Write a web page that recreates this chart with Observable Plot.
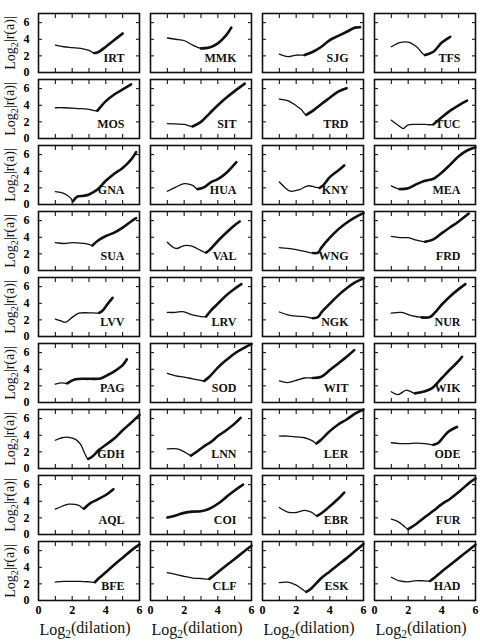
<!DOCTYPE html>
<html>
<head>
<meta charset="utf-8">
<script src="https://cdn.jsdelivr.net/npm/d3@7"></script>
<script src="https://cdn.jsdelivr.net/npm/@observablehq/plot@0.6"></script>
<style>
  html, body { margin: 0; padding: 0; background: #fff; }
  svg { display: block; }
</style>
</head>
<body>
<div id="chart"></div>
<script>
// ---- data: station names (row by row, 4 per row) ----
const stations = [
  "IRT","MMK","SJG","TFS",
  "MOS","SIT","TRD","TUC",
  "GNA","HUA","KNY","MEA",
  "SUA","VAL","WNG","FRD",
  "LVV","LRV","NGK","NUR",
  "PAG","SOD","WIT","WIK",
  "GDH","LNN","LER","ODE",
  "AQL","COI","EBR","FUR",
  "BFE","CLF","ESK","HAD"
];

// ---- curves: [log2(dilation), log2|r(a)|] ----
const IRT = [[1,3.3],[1.5,3.1],[2,3.0],[2.5,2.9],[3,2.65],[3.3,2.35],[3.5,2.4],[4,3.1],[4.5,3.9],[5,4.7]];
const MMK = [[1,4.15],[1.5,4.0],[2,3.85],[2.5,3.3],[3,2.9],[3.5,3.0],[4,3.5],[4.5,4.5],[4.8,5.4]];
const SJG = [[1,2.2],[1.5,1.9],[2,2.1],[2.5,2.1],[3,2.5],[3.5,3.1],[4,3.9],[4.5,4.4],[5,4.9],[5.5,5.4],[5.8,5.45]];
const TFS = [[1,3.1],[1.5,3.6],[2,3.65],[2.5,3.1],[3,2.1],[3.5,2.5],[4,3.6],[4.5,4.3]];
const MOS = [[1,3.7],[1.5,3.7],[2,3.65],[2.5,3.6],[3,3.5],[3.5,3.35],[4,4.5],[4.5,5.3],[5,5.9],[5.5,6.5]];
const SIT = [[1,1.8],[1.5,1.75],[2,1.7],[2.5,1.45],[3,2.0],[3.5,3.0],[4,4.0],[4.5,4.9],[5,5.7],[5.6,6.6]];
const TRD = [[1,4.75],[1.5,4.55],[2,3.95],[2.3,3.5],[2.6,2.85],[3,3.35],[3.5,4.15],[4,4.9],[4.5,5.65],[5,6.05]];
const TUC = [[1,2.2],[1.4,1.6],[1.7,1.2],[2,1.65],[2.5,1.7],[3,1.7],[3.5,1.7],[4,2.55],[4.5,3.35],[5,4.0],[5.5,4.55]];
const GNA = [[1,1.55],[1.5,1.35],[1.9,0.8],[2.05,0.4],[2.3,0.95],[2.7,1.05],[3,1.2],[3.5,1.8],[4,2.85],[4.5,3.7],[5,4.4],[5.5,5.4],[5.8,6.3]];
const HUA = [[1,1.6],[1.5,2.1],[2,2.5],[2.5,2.3],[2.8,1.85],[3.2,2.1],[3.6,2.7],[4,3.05],[4.5,3.8],[5.1,5.1]];
const KNY = [[1,2.7],[1.3,2.1],[1.65,1.6],[2.2,1.8],[2.7,2.25],[3.1,2.1],[3.4,2.0],[3.6,2.3],[4,3.3],[4.5,4.1],[4.85,4.7]];
const MEA = [[1,2.25],[1.5,1.85],[2,1.95],[2.5,2.45],[3,2.85],[3.5,3.1],[4,3.85],[4.5,4.8],[5,5.8],[5.5,6.5],[6,6.9]];
const SUA = [[1,3.35],[1.5,3.25],[2,3.35],[2.5,3.3],[3,3.15],[3.2,3.0],[3.5,3.55],[4,4.15],[4.5,4.55],[5,5.15],[5.5,5.9],[5.8,6.3]];
const VAL = [[1,3.4],[1.5,2.65],[2,3.0],[2.5,2.9],[3,2.4],[3.3,2.15],[3.5,2.45],[4,3.55],[4.5,4.55],[5,5.45],[5.3,5.9]];
const WNG = [[1,2.75],[1.5,2.65],[2,2.5],[2.5,2.3],[3,2.1],[3.3,2.15],[3.5,2.75],[4,3.95],[4.5,4.95],[5,5.75],[5.5,6.4],[6,6.9]];
const FRD = [[1,4.1],[1.5,3.95],[2,3.95],[2.5,3.65],[3,3.45],[3.5,3.75],[4,4.5],[4.5,5.2],[5,5.9],[5.6,6.85]];
const LVV = [[1,2.1],[1.3,1.9],[1.6,1.7],[2,2.3],[2.4,2.8],[3,2.85],[3.6,2.85],[3.8,3.1],[4.1,3.9],[4.4,4.65]];
const LRV = [[1,2.9],[1.5,2.9],[1.9,3.0],[2.5,2.6],[3,2.4],[3.3,2.4],[3.6,3.15],[4,3.95],[4.5,4.95],[5,5.75],[5.4,6.3]];
const NGK = [[1,2.95],[1.5,2.6],[2,2.45],[2.5,2.4],[3,2.2],[3.3,2.35],[3.5,2.9],[4,3.95],[4.5,4.95],[5,5.8],[5.5,6.5],[6,7.0]];
const NUR = [[1,2.8],[1.6,2.9],[2.2,2.5],[2.8,2.3],[3.3,2.35],[3.6,2.9],[4,3.85],[4.5,4.85],[5,5.7],[5.4,6.3]];
const PAG = [[1,2.2],[1.4,2.35],[1.7,2.3],[2.2,2.8],[3,2.85],[3.7,2.9],[4.1,3.3],[4.5,3.75],[5,4.5],[5.25,5.2]];
const SOD = [[1,3.5],[1.5,3.2],[2,3.05],[2.5,2.85],[3,2.65],[3.2,2.6],[3.5,3.1],[4,4.2],[4.5,5.1],[5,5.9],[5.5,6.5],[6,7.05]];
const WIT = [[1,2.6],[1.5,2.4],[2,2.65],[2.5,2.95],[3,2.95],[3.5,3.1],[4,3.9],[4.5,4.7],[5,5.5],[5.45,6.3]];
const WIK = [[1,1.3],[1.4,0.95],[1.9,1.5],[2.4,1.1],[3,1.35],[3.4,1.7],[4,2.95],[4.5,4.0],[5,5.0],[5.2,5.5]];
const GDH = [[1,3.4],[1.4,3.7],[1.8,3.75],[2.2,3.5],[2.5,2.9],[2.75,1.8],[2.95,1.15],[3.2,1.45],[3.6,2.25],[4,2.85],[4.5,3.6],[5,4.6],[5.5,5.5],[6,6.45]];
const LNN = [[1,2.35],[1.6,2.35],[2.1,1.9],[2.4,1.55],[2.7,1.95],[3.2,2.7],[3.6,3.2],[4,3.9],[4.5,4.6],[5,5.4],[5.35,6.1]];
const LER = [[1,3.9],[1.5,3.9],[2,3.8],[2.5,3.7],[3,3.3],[3.2,3.0],[3.5,3.5],[4,4.5],[4.5,5.3],[5,5.9],[5.5,6.6],[6,7.1]];
const ODE = [[1,3.1],[1.5,3.0],[2,3.0],[2.5,3.05],[3,3.0],[3.5,2.85],[3.8,3.1],[4.1,3.8],[4.4,4.45],[4.9,5.0]];
const AQL = [[1,3.05],[1.4,3.4],[1.8,3.65],[2.4,3.5],[2.7,3.1],[3.1,3.8],[3.5,4.2],[4,4.75],[4.45,5.45]];
const COI = [[1,2.05],[1.5,2.3],[2,2.6],[2.5,2.75],[3,2.8],[3.5,3.1],[4,3.7],[4.5,4.5],[5,5.3],[5.5,6.0]];
const EBR = [[1,3.25],[1.5,2.7],[2,2.65],[2.5,2.9],[2.9,2.7],[3.25,2.25],[3.6,2.7],[4,3.4],[4.5,4.3],[4.85,5.05]];
const FUR = [[1,1.85],[1.4,1.55],[1.7,1.1],[2,0.65],[2.5,1.3],[3,2.1],[3.5,2.85],[4,3.65],[4.5,4.3],[5,5.1],[5.5,6.0],[6,6.75]];
const BFE = [[1,2.2],[1.5,2.3],[2,2.3],[2.5,2.3],[3,2.25],[3.35,2.2],[3.6,2.7],[4,3.4],[4.5,4.3],[5,5.15],[5.5,6.0],[6,6.75]];
const CLF = [[1,3.35],[1.5,3.15],[2,2.9],[2.5,2.7],[3,2.65],[3.5,2.6],[4,3.4],[4.5,4.2],[5,5.0],[5.5,5.8],[6,6.6]];
const ESK = [[1,2.15],[1.5,2.2],[2,1.85],[2.3,1.45],[2.6,1.05],[2.9,1.45],[3.5,2.7],[4,3.5],[4.5,4.3],[5,5.1],[5.5,5.95],[6,6.8]];
const HAD = [[1,2.8],[1.5,2.35],[2,2.25],[2.5,2.4],[3,2.35],[3.3,2.35],[3.6,2.8],[4,3.5],[4.5,4.3],[5,5.1],[5.5,5.9],[6,6.7]];

const curves = [IRT,MMK,SJG,TFS,MOS,SIT,TRD,TUC,GNA,HUA,KNY,MEA,SUA,VAL,WNG,FRD,
                LVV,LRV,NGK,NUR,PAG,SOD,WIT,WIK,GDH,LNN,LER,ODE,AQL,COI,EBR,FUR,
                BFE,CLF,ESK,HAD];

// ---- axis ticks & titles ----
const xTickMarks = [0,1,2,3,4,5,6];
const xTickLabels = [0,2,4,6];
const yTicks = [0,2,4,6];
const xTitle = "Log2(dilation)";
const yTitle = "Log2|r(a)|";
const nCols = 4;

// ---- build tables ----
const panels = stations.map((name, i) => ({
  name, col: i % nCols + 1, row: Math.floor(i / nCols) + 1, pts: curves[i]
}));
const nRows = Math.ceil(stations.length / nCols);
const thin = panels.flatMap(p => p.pts.map(([x, y]) => ({name: p.name, col: p.col, row: p.row, x, y})));
const thick = panels.flatMap(p => {
  let k = p.pts.length - 1;
  while (k > 0 && p.pts[k - 1][1] < p.pts[k][1]) k--;
  return p.pts.slice(k).map(([x, y]) => ({name: p.name, col: p.col, row: p.row, x, y}));
});
const rowList = d3.range(1, nRows + 1);
const colList = d3.range(1, nCols + 1);
const yTitleRows = rowList.map(r => ({col: 1, row: r}));
const xTitleCols = colList.map(c => ({col: c, row: nRows}));

const chart = Plot.plot({
  width: 480,
  height: 643,
  marginLeft: 37,
  marginRight: 4,
  marginTop: 10,
  marginBottom: 41,
  fx: {axis: null, domain: colList, paddingInner: 0.095, paddingOuter: 0},
  fy: {axis: null, domain: rowList, paddingInner: 0.111, paddingOuter: 0},
  x: {domain: [0, 6]},
  y: {domain: [0, 7.1]},
  style: {fontFamily: "'Liberation Serif', serif", color: "#000", background: "#fff"},
  marks: [
    // inward ticks on all four sides of every panel
    Plot.axisX({anchor: "bottom", ticks: xTickMarks, tickSize: 4, dy: -4, tickFormat: () => "", label: null, facetAnchor: null, strokeWidth: 1}),
    Plot.axisX({anchor: "top", ticks: xTickMarks, tickSize: 4, dy: 4, tickFormat: () => "", label: null, facetAnchor: null, strokeWidth: 1}),
    Plot.axisY({anchor: "left", ticks: yTicks, tickSize: 4, dx: 4, tickFormat: () => "", label: null, facetAnchor: null, strokeWidth: 1}),
    Plot.axisY({anchor: "right", ticks: yTicks, tickSize: 4, dx: -4, tickFormat: () => "", label: null, facetAnchor: null, strokeWidth: 1}),
    // tick labels
    Plot.axisX({anchor: "bottom", ticks: xTickLabels, tickFormat: d => String(d), tickSize: 0, tickPadding: 5, label: null, fontSize: 12, fontWeight: "bold", facetAnchor: "bottom"}),
    Plot.axisY({anchor: "left", ticks: yTicks, tickFormat: d => String(d), tickSize: 0, tickPadding: 9, label: null, fontSize: 12, fontWeight: "bold", facetAnchor: "left"}),
    // curves
    Plot.line(thin, {x: "x", y: "y", z: "name", fx: "col", fy: "row", curve: "catmull-rom", stroke: "#111", strokeWidth: 1.3}),
    Plot.line(thick, {x: "x", y: "y", z: "name", fx: "col", fy: "row", curve: "catmull-rom", stroke: "#111", strokeWidth: 2.6}),
    // station labels
    Plot.text(panels, {fx: "col", fy: "row", text: "name", frameAnchor: "bottom-right", dx: -15, dy: -11,
      textAnchor: "end", lineAnchor: "bottom", fontWeight: "bold", fontSize: 12, fill: "#111"}),
    // axis titles
    Plot.text(yTitleRows, {fx: "col", fy: "row", text: () => yTitle, frameAnchor: "left", textAnchor: "middle", lineAnchor: "middle",
      dx: -28, rotate: -90, fontSize: 14, fill: "#111"}),
    Plot.text(xTitleCols, {fx: "col", fy: "row", text: () => xTitle, frameAnchor: "bottom", textAnchor: "middle", lineAnchor: "middle",
      dx: -4, dy: 29, fontSize: 16, fill: "#111"}),
    Plot.frame({stroke: "#111", strokeWidth: 1.6})
  ]
});

// subscript "2" in the axis titles
d3.select(chart).selectAll("text").each(function () {
  const t = this.textContent;
  if (t === xTitle || t === yTitle) {
    const sel = d3.select(this);
    sel.text(null);
    sel.append("tspan").text("Log");
    sel.append("tspan").attr("dy", "0.3em").attr("font-size", "72%").text("2");
    sel.append("tspan").attr("dy", "-0.3em").text(t.slice(4));
  }
});

document.getElementById("chart").appendChild(chart);
</script>
</body>
</html>
